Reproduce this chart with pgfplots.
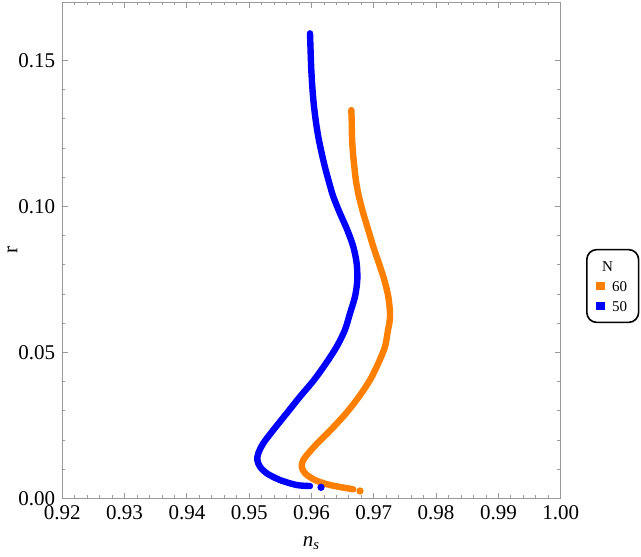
\documentclass[border=0pt]{standalone}
\usepackage{fontspec}
\setmainfont{Liberation Serif}
\usepackage{pgfplots}
\pgfplotsset{compat=1.18}
\definecolor{mmaorange}{rgb}{1,0.5,0}
\definecolor{mmablue}{rgb}{0,0,1}
\definecolor{framegray}{gray}{0.6}
\begin{document}
\begin{tikzpicture}
\begin{axis}[
  name=ax,
  scale only axis,
  width=249.2pt, height=248.25pt,
  xmin=0.92, xmax=1.00, ymin=0, ymax=0.17,
  xtick={0.92,0.93,...,1.001}, ytick={0,0.05,0.10,0.15},
  minor x tick num=4, minor y tick num=4,
  tick align=inside, tick pos=both,
  xticklabel pos=lower, yticklabel pos=left,
  major tick length=3pt, minor tick length=1.6pt,
  axis line style={framegray, line width=0.5pt},
  every tick/.style={framegray, line width=0.4pt},
  ticklabel style={font=\fontsize{10.5}{12}\selectfont, black},
  /pgf/number format/assume math mode=true,
  xticklabel style={/pgf/number format/.cd, fixed, fixed zerofill, precision=2},
  yticklabel style={/pgf/number format/.cd, fixed, fixed zerofill, precision=2},
  scaled ticks=false,
  xlabel={\itshape n\textsubscript{s}},
  ylabel={r},
  xlabel style={at={(axis description cs:0.5,-0.0896)}, anchor=center, font=\fontsize{10.5}{12}\selectfont},
  ylabel style={at={(axis description cs:-0.1003,0.5)}, anchor=center, font=\fontsize{10.5}{12}\selectfont},
  clip=false,
  legend style={at={(rel axis cs:1.0508,0.428)}, anchor=west, draw=black, line width=0.8pt,
    rounded corners=5pt, font=\fontsize{7.5}{9}\selectfont, inner xsep=4.8pt, inner ysep=4.6pt,
    row sep=2.8pt, column sep=2.5pt,
    nodes={inner sep=1pt, text height=5.2pt, text depth=0pt}},
  legend cell align=left,
  legend image code/.code={\fill[#1, sharp corners] (0pt,-1.75pt) rectangle (3.5pt,1.75pt);},
]
\addplot[mmaorange, line width=3.2pt, line cap=round, line join=round, smooth, forget plot] coordinates {
(0.96639,0.13300)
(0.96645,0.12958)
(0.96650,0.12386)
(0.96666,0.11818)
(0.96693,0.11246)
(0.96712,0.10904)
(0.96730,0.10674)
(0.96762,0.10332)
(0.96831,0.09764)
(0.96912,0.09192)
(0.96992,0.08620)
(0.97083,0.08052)
(0.97169,0.07480)
(0.97233,0.06909)
(0.97260,0.06340)
(0.97249,0.05998)
(0.97228,0.05769)
(0.97180,0.05197)
(0.97072,0.04629)
(0.96939,0.04057)
(0.96762,0.03485)
(0.96554,0.02917)
(0.96308,0.02345)
(0.96093,0.01890)
(0.95949,0.01547)
(0.95868,0.01318)
(0.95843,0.01089)
(0.95896,0.00863)
(0.96056,0.00633)
(0.96297,0.00462)
(0.96671,0.00315)
};
\addplot[only marks, mark=*, mark size=1.6pt, mmaorange, forget plot] coordinates {(0.96778,0.00257)};
\addplot[mmablue, line width=3.2pt, line cap=round, line join=round, smooth, forget plot] coordinates {
(0.95976,0.15926)
(0.95987,0.15241)
(0.95997,0.14670)
(0.96013,0.14098)
(0.96035,0.13530)
(0.96067,0.12958)
(0.96109,0.12386)
(0.96164,0.11818)
(0.96228,0.11246)
(0.96302,0.10674)
(0.96350,0.10332)
(0.96457,0.09764)
(0.96575,0.09192)
(0.96671,0.08620)
(0.96725,0.08052)
(0.96735,0.07480)
(0.96698,0.06909)
(0.96618,0.06340)
(0.96536,0.05769)
(0.96404,0.05197)
(0.96233,0.04629)
(0.96040,0.04057)
(0.95815,0.03485)
(0.95602,0.02917)
(0.95387,0.02345)
(0.95226,0.01890)
(0.95146,0.01547)
(0.95130,0.01318)
(0.95173,0.01089)
(0.95281,0.00863)
(0.95494,0.00633)
(0.95762,0.00462)
(0.95976,0.00428)
};
\addplot[only marks, mark=*, mark size=1.6pt, mmablue, forget plot] coordinates {(0.96153,0.00383)};
\addlegendimage{legend image code/.code={}}
\addlegendentry{\hspace{-5pt}N}
\addlegendimage{mmaorange}
\addlegendentry{60}
\addlegendimage{mmablue}
\addlegendentry{50}
\end{axis}
\path (ax.south west) ++(-31.15pt,-27.25pt) rectangle ++(320.5pt,276.5pt);
\end{tikzpicture}
\end{document}
